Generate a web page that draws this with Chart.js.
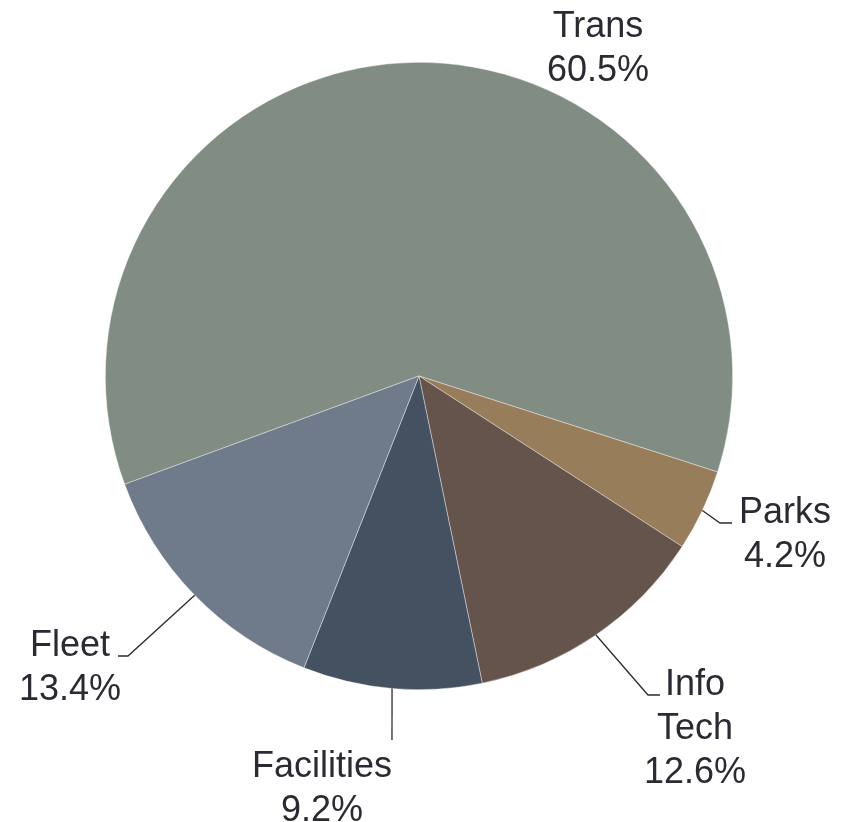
<!DOCTYPE html>
<html lang="en">

<head>
  <meta charset="UTF-8" />
  <title>Spending by Department</title>
  <script src="https://cdn.jsdelivr.net/npm/chart.js"></script>
  <style>
    html,
    body {
      margin: 0;
      padding: 0;
      background-color: #fff;
    }

    #chart-container {
      width: 854px;
      height: 822px;
      position: relative;
    }
  </style>
</head>

<body>
  <div id="chart-container">
    <canvas id="pieChart"></canvas>
  </div>

  <script>
    // Data
    const departments = ['Trans', 'Parks', 'Info Tech', 'Facilities', 'Fleet'];
    const shares = [60.5, 4.2, 12.6, 9.2, 13.4];
    const sliceColors = ['#818d83', '#977d59', '#65544b', '#435160', '#6f7b8b'];

    // Label placement, offsets in px from the pie centre
    // text: centre x of the text block + first baseline; tick: end of the leader line
    const labelLayout = [
      { text: [179, -339], elbow: null, tick: null },
      { text: [366, 147], elbow: [301, 147], tick: [313, 147] },
      { text: [276, 319], elbow: [229, 319], tick: [241, 319] },
      { text: [-97, 401], elbow: [-27, 364], tick: [-27, 364] },
      { text: [-349, 280], elbow: [-291, 280], tick: [-301, 280] }
    ];

    const labelFont = '36px "Liberation Sans", Arial, sans-serif';
    const lineHeight = 44;

    // Draws the outside labels with leader lines
    const outsideLabels = {
      id: 'outsideLabels',
      afterDraw(chart) {
        const ctx = chart.ctx;
        const arcs = chart.getDatasetMeta(0).data;
        ctx.save();
        ctx.font = labelFont;
        ctx.fillStyle = '#2a2a33';
        ctx.strokeStyle = '#2a2a33';
        ctx.lineWidth = 1.3;
        ctx.textAlign = 'center';
        ctx.textBaseline = 'alphabetic';
        arcs.forEach((arc, i) => {
          const p = arc.getProps(['x', 'y', 'startAngle', 'endAngle', 'outerRadius'], true);
          const lay = labelLayout[i];
          if (lay.elbow) {
            const mid = (p.startAngle + p.endAngle) / 2;
            const sx = p.x + Math.cos(mid) * p.outerRadius;
            const sy = p.y + Math.sin(mid) * p.outerRadius;
            ctx.beginPath();
            ctx.moveTo(sx, sy);
            ctx.lineTo(p.x + lay.elbow[0], p.y + lay.elbow[1]);
            ctx.lineTo(p.x + lay.tick[0], p.y + lay.tick[1]);
            ctx.stroke();
          }
          const lines = departments[i].split(' ');
          lines.push(shares[i].toFixed(1) + '%');
          lines.forEach((txt, k) => {
            ctx.fillText(txt, p.x + lay.text[0], p.y + lay.text[1] + k * lineHeight);
          });
        });
        ctx.restore();
      }
    };

    const ctx = document.getElementById('pieChart').getContext('2d');

    const pieChart = new Chart(ctx, {
      type: 'pie',
      data: {
        labels: departments,
        datasets: [{
          data: shares,
          backgroundColor: sliceColors,
          borderColor: 'rgba(255,255,255,0.55)',
          borderWidth: 0.7
        }]
      },
      options: {
        responsive: true,
        maintainAspectRatio: false,
        animation: false,
        rotation: 249.8,
        layout: {
          padding: { left: 105, right: 121, top: 62, bottom: 132 }
        },
        plugins: {
          legend: { display: false },
          tooltip: { enabled: false }
        }
      },
      plugins: [outsideLabels]
    });
  </script>
</body>

</html>
